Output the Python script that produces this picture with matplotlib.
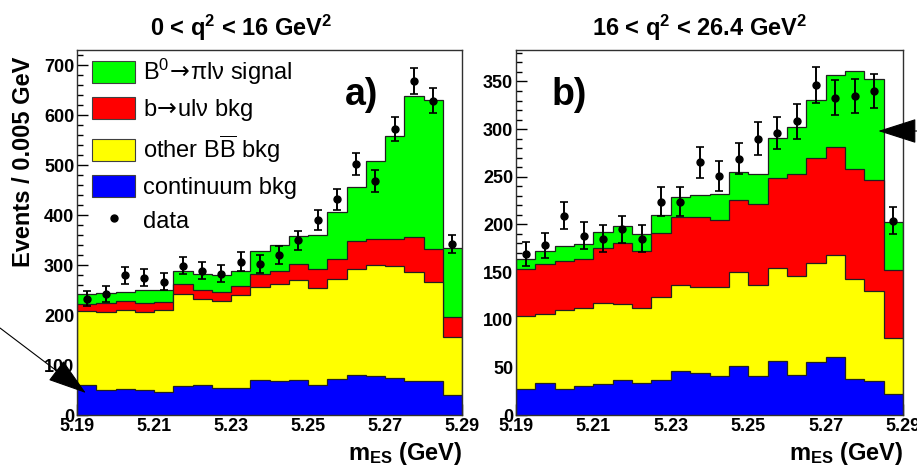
import numpy as np
import matplotlib
matplotlib.use("Agg")
import matplotlib.pyplot as plt
import matplotlib.patches as mpatches
from matplotlib.lines import Line2D
from matplotlib.ticker import MultipleLocator

plt.rcParams['font.family'] = ['Liberation Sans', 'DejaVu Sans']
plt.rcParams['mathtext.fontset'] = 'custom'
plt.rcParams['mathtext.rm'] = 'Liberation Sans'
plt.rcParams['mathtext.bf'] = 'Liberation Sans:bold'
plt.rcParams['mathtext.sf'] = 'DejaVu Sans'
plt.rcParams['mathtext.default'] = 'regular'

# mES binning: 20 bins of 5 MeV
edges = np.round(np.arange(5.19, 5.2901, 0.005), 4)
centers = 0.5 * (edges[:-1] + edges[1:])
xticks = [5.19, 5.21, 5.23, 5.25, 5.27, 5.29]

# ---- a) 0 < q2 < 16 GeV2 : cumulative stack tops ----
a_cont = [60, 51, 53, 50, 47, 59, 61, 54, 54, 71, 68, 71, 60, 72, 81, 79, 75, 69, 69, 41]
a_bb = [209, 207, 211, 207, 210, 243, 233, 229, 240, 257, 263, 270, 255, 273, 293, 301, 298, 287, 267, 157]
a_bulnu = [223, 225, 229, 225, 227, 263, 251, 247, 258, 283, 289, 302, 293, 313, 347, 352, 352, 355, 331, 197]
a_sig = [242, 245, 247, 250, 251, 289, 283, 280, 289, 327, 339, 357, 360, 405, 455, 508, 557, 637, 629, 333]
a_data = [233, 243, 280, 275, 267, 299, 289, 283, 307, 302, 320, 349, 389, 431, 502, 467, 571, 668, 628, 342]
a_err = [15, 16, 17, 17, 17, 17, 17, 17, 18, 18, 18, 19, 20, 21, 22, 22, 24, 26, 25, 18]

# ---- b) 16 < q2 < 26.4 GeV2 ----
b_cont = [27, 34, 27, 30, 33, 37, 34, 37, 46, 44, 41, 51, 41, 57, 42, 56, 61, 38, 36, 22]
b_bb = [104, 106, 110, 112, 118, 116, 112, 124, 136, 134, 134, 150, 136, 154, 146, 160, 168, 143, 130, 81]
b_bulnu = [153, 158, 162, 164, 175, 181, 172, 191, 208, 208, 205, 226, 221, 249, 253, 270, 281, 258, 247, 152]
b_sig = [164, 172, 177, 179, 192, 198, 190, 210, 229, 231, 232, 255, 253, 291, 302, 331, 357, 361, 353, 202]
b_data = [169, 178, 209, 188, 185, 195, 185, 224, 224, 265, 251, 269, 290, 296, 308, 346, 333, 335, 340, 204]
b_err = [13, 13, 14, 14, 14, 14, 14, 15, 15, 16, 16, 16, 17, 17, 18, 19, 18, 18, 18, 14]

labels = ["B$^0\\!\\mathsf{\\rightarrow}\\!$\u03c0l\u03bd signal",
          "b$\\!\\mathsf{\\rightarrow}\\!$ul\u03bd bkg",
          "other B$\\overline{\\rm B}$ bkg", "continuum bkg"]
colors = ["#00ff00", "#ff0000", "#ffff00", "#0000ff"]


def draw_panel(ax, stack, data, err, ymax, major, minor):
    # biggest (total) first, each later one painted over it
    for vals, c in zip(stack, colors):
        ax.stairs(vals, edges, fill=True, facecolor=c, edgecolor='#202020', lw=0.9)
    ax.errorbar(centers, data, yerr=err, fmt='o', color='k', ms=5,
                elinewidth=1.4, capsize=3, capthick=1.2, zorder=5)
    ax.set_xlim(5.19, 5.29)
    ax.set_ylim(0, ymax)
    ax.set_axisbelow(True)
    ax.set_xticks(xticks)
    ax.set_xticklabels(["%.2f" % v for v in xticks])
    ax.set_xticks(np.arange(5.19, 5.2901, 0.004), minor=True)
    ax.yaxis.set_major_locator(MultipleLocator(major))
    ax.yaxis.set_minor_locator(MultipleLocator(minor))
    ax.tick_params(which='both', direction='in', top=False, right=False,
                   labelsize=13, width=1)
    ax.tick_params(which='major', length=8)
    ax.tick_params(which='minor', length=4.5)
    ax.tick_params(axis='x', pad=2)
    ax.tick_params(axis='y', pad=2)
    for lab in ax.get_xticklabels() + ax.get_yticklabels():
        lab.set_fontweight('bold')
    for s in ax.spines.values():
        s.set_color('#303030')
        s.set_linewidth(1.0)
    ax.set_xlabel("m$_{ES}$ (GeV)", fontsize=17, fontweight='bold', ha='right')
    ax.xaxis.set_label_coords(1.0, -0.068)


fig = plt.figure(figsize=(9.17, 4.65), dpi=100)
ax1 = fig.add_axes([77 / 917, 50 / 465, 385 / 917, 365 / 465])
ax2 = fig.add_axes([516 / 917, 50 / 465, 387 / 917, 365 / 465])

draw_panel(ax1, [a_sig, a_bulnu, a_bb, a_cont], a_data, a_err, 730, 100, 20)
draw_panel(ax2, [b_sig, b_bulnu, b_bb, b_cont], b_data, b_err, 383, 50, 10)

ax1.set_ylabel("Events / 0.005 GeV", fontsize=17, fontweight='bold')
ax1.yaxis.set_label_coords(-0.11, 0.695)

fig.text(241 / 917, 1 - 28 / 465, "0 < q$^2$ < 16 GeV$^2$", fontsize=17,
         fontweight='bold', ha='center', va='center')
fig.text(700 / 917, 1 - 28 / 465, "16 < q$^2$ < 26.4 GeV$^2$", fontsize=17,
         fontweight='bold', ha='center', va='center')

ax1.text(0.696, 0.85, "a)", transform=ax1.transAxes, fontsize=27,
         fontweight='bold', va='baseline')
ax2.text(0.093, 0.85, "b)", transform=ax2.transAxes, fontsize=27,
         fontweight='bold', va='baseline')

handles = [mpatches.Patch(facecolor=c, edgecolor='#404040', lw=0.8) for c in colors]
handles.append(Line2D([], [], ls='none', marker='o', color='k', ms=5))
ax1.legend(handles, labels + ["data"], loc='upper left',
           bbox_to_anchor=(0.039, 0.981), frameon=False, fontsize=17,
           handlelength=1.82, handleheight=1.06, labelspacing=0.42,
           handletextpad=0.34, borderpad=0, borderaxespad=0)

# pointers at the fit projections
arrow = dict(arrowstyle='-|>,head_length=1.25,head_width=0.4', color='k',
             lw=0.8, shrinkA=0, shrinkB=0, mutation_scale=20)
ax1.annotate('', xy=(5.1923, 44), xytext=(0.0, 1 - 328 / 465),
             textcoords='figure fraction', arrowprops=arrow,
             annotation_clip=False, zorder=10)
ax2.annotate('', xy=(5.2836, 298), xytext=(1.03, 1 - 131 / 465),
             textcoords='figure fraction', arrowprops=arrow,
             annotation_clip=False, zorder=10)

fig.savefig("out.png", dpi=100)
